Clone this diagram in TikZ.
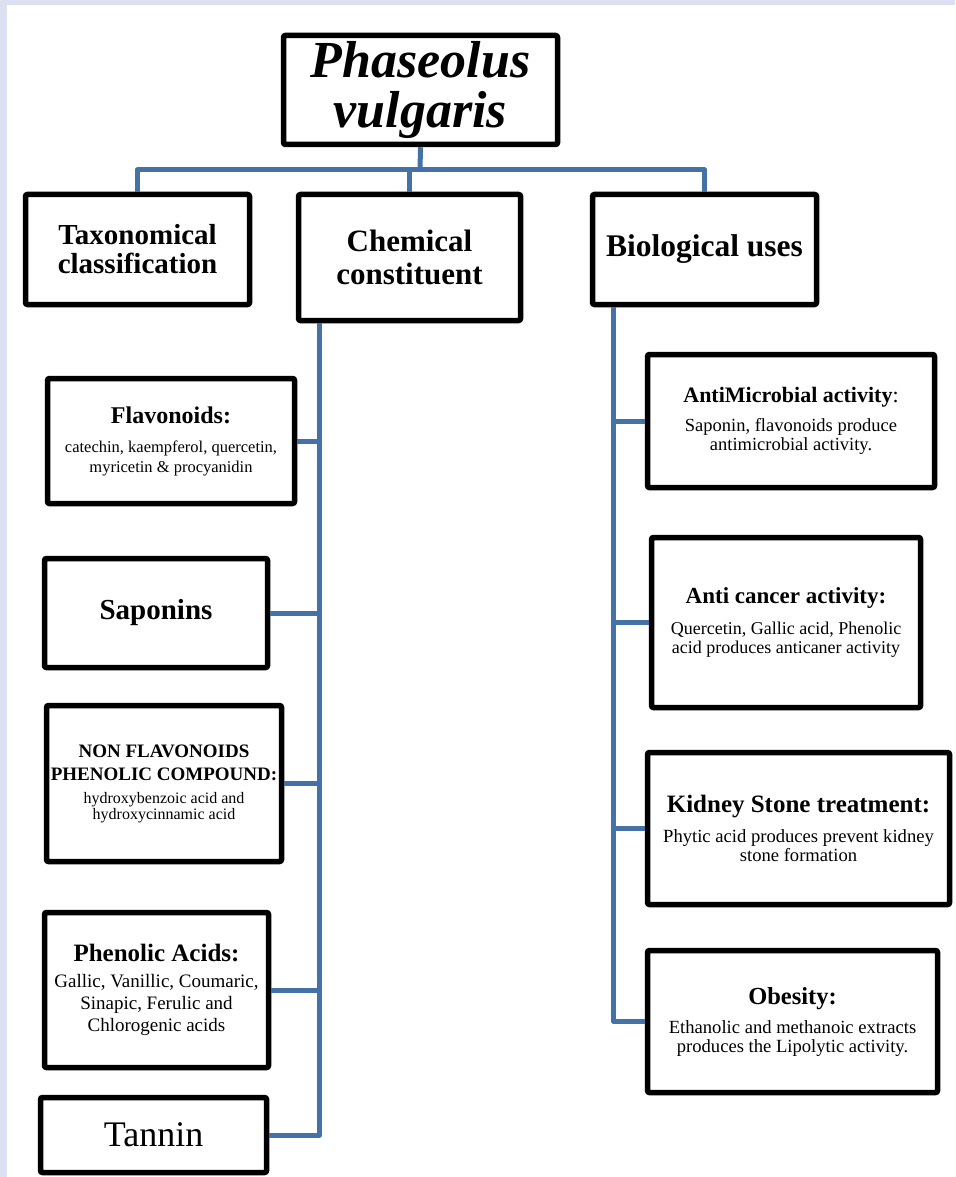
\documentclass[tikz,border=0pt]{standalone}
\usepackage{fontspec}
\setmainfont{Liberation Serif}

\definecolor{linkblue}{RGB}{68,114,166}
\definecolor{pageback}{RGB}{221,224,240}
\newcommand{\fs}[2]{\fontsize{#1}{#2}\selectfont}
\newcommand{\hd}[2]{{\fs{#1}{#1}\bfseries #2}}

\begin{document}
\begin{tikzpicture}[x=1pt,y=-1pt,
  box/.style={draw=black,line width=5.5pt,rounded corners=2pt,fill=white,align=center,inner sep=0pt},
  link/.style={draw=linkblue,line width=5pt,line join=round},
]
\fill[pageback] (0,0) rectangle (955,1177);
\fill[white] (7,5) rectangle (955,1177);
\useasboundingbox (0,0) rectangle (955,1177);

% top
\node[box,minimum width=274,minimum height=109,font=\fs{52}{50}\bfseries\itshape] (plant) at (420.5,90) {Phaseolus\\vulgaris};
\node[box,minimum width=224,minimum height=110,font=\fs{29}{29}\bfseries] (taxo) at (137.5,249.5) {Taxonomical\\classification};
\node[box,minimum width=222,minimum height=126,font=\fs{31}{33}\bfseries] (chem) at (409.5,257.5) {Chemical\\constituent};
\node[box,minimum width=224,minimum height=110,font=\fs{31.5}{33}\bfseries] (bio) at (704.5,249.5) {Biological uses};

% chemical constituents
\node[box,minimum width=247,minimum height=125,font=\fs{16.5}{20}] (flav) at (171,441)
  {\hd{24}{Flavonoids:}\\[9pt]catechin, kaempferol, quercetin,\\myricetin \& procyanidin};
\node[box,minimum width=223,minimum height=109,font=\fs{29}{29}\bfseries] (sapo) at (156,613) {Saponins};
\node[box,minimum width=235,minimum height=156,font=\fs{16}{16}] (nonflav) at (164,783.5)
  {\hd{19}{NON FLAVONOIDS}\\[7pt]\hd{19}{PHENOLIC COMPOUND:}\\[7pt]hydroxybenzoic acid and\\hydroxycinnamic acid};
\node[box,minimum width=224,minimum height=155,font=\fs{19}{22}] (phen) at (156.5,990)
  {\hd{25}{Phenolic Acids:}\\[4pt]Gallic, Vanillic, Coumaric,\\Sinapic, Ferulic and\\Chlorogenic acids};
\node[box,minimum width=226,minimum height=75,font=\fs{36}{36}] (tannin) at (153.5,1135) {Tannin};

% biological uses
\node[box,minimum width=287,minimum height=133,font=\fs{18.5}{19}] (micro) at (791,421)
  {{\fs{22}{22}{\bfseries AntiMicrobial activity}:}\\[10pt]Saponin, flavonoids produce\\antimicrobial activity.};
\node[box,minimum width=269,minimum height=170,font=\fs{18}{19}] (cancer) at (786,622.5)
  {\hd{23}{Anti cancer activity:}\\[12pt]Quercetin, Gallic acid, Phenolic\\acid produces anticaner activity};
\node[box,minimum width=302,minimum height=152,font=\fs{18.6}{19}] (kidney) at (798.5,828.5)
  {\hd{25}{Kidney Stone treatment:}\\[11pt]Phytic acid produces prevent kidney\\stone formation};
\node[box,minimum width=290,minimum height=142,font=\fs{18.6}{19}] (obesity) at (792.5,1021.5)
  {\hd{24.5}{Obesity:}\\[10pt]Ethanolic and methanoic extracts\\produces the Lipolytic activity.};

% connectors
\coordinate (bus) at (420,170);
\draw[link] (plant.south) -- (bus);
\draw[link] (taxo.north) |- (bus) -| (bio.north);
\draw[link] (chem.north) -- (chem.north |- bus);

\coordinate (chemroot) at ([xshift=24pt]chem.south west);
\draw[link] (chemroot) |- (tannin.east);
\foreach \n in {flav,sapo,nonflav,phen}
  \draw[link] (\n.east) -- (\n.east -| chemroot);

\coordinate (bioroot) at ([xshift=24pt]bio.south west);
\draw[link] (bioroot) |- (obesity.west);
\foreach \n in {micro,cancer,kidney}
  \draw[link] (\n.west) -- (\n.west -| bioroot);
\end{tikzpicture}
\end{document}
